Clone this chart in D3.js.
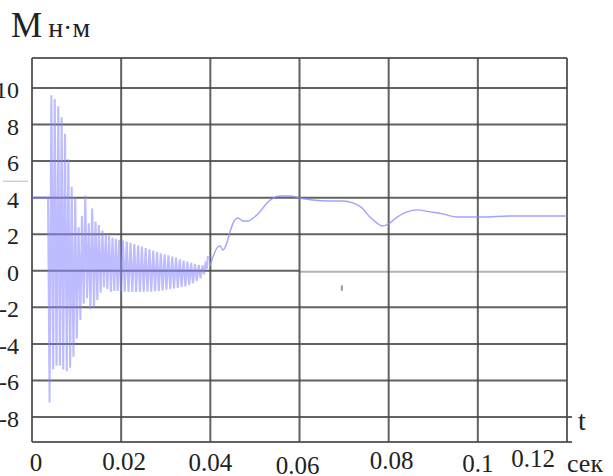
<!DOCTYPE html>
<html>
<head>
<meta charset="utf-8">
<script src="https://cdn.jsdelivr.net/npm/d3@7"></script>
<style>
  body { margin: 0; background: #fff; }
  svg { display: block; }
  text { font-family: "Liberation Serif", "DejaVu Serif", serif; fill: #222; }
</style>
</head>
<body>
<svg id="chart" width="613" height="476"></svg>
<script>
// axis ticks
const xTicks = [0, 0.02, 0.04, 0.06, 0.08, 0.1, 0.12];
const xTickLabels = ["0", "0.02", "0.04", "0.06", "0.08", "0.1", "0.12"];
const yTicks = [-8, -6, -4, -2, 0, 2, 4, 6, 8, 10];

// torque M (N·m) vs time t (s): start-up burst, peaks and troughs
const burstT = [0, 0.0036, 0.00395, 0.00435, 0.00475, 0.0051, 0.0055, 0.0059, 0.00625, 0.00665,
  0.007, 0.0074, 0.0078, 0.00815, 0.00855, 0.0089, 0.0093, 0.0097, 0.01005, 0.01045,
  0.01085, 0.0112, 0.0116, 0.01195, 0.01235, 0.01275, 0.0131, 0.0135, 0.0139, 0.01425,
  0.01465, 0.015, 0.0154, 0.0158, 0.01615, 0.01655, 0.0169, 0.0173, 0.0177, 0.01805,
  0.01845, 0.0188, 0.0192, 0.01955, 0.01995, 0.0204, 0.0208, 0.02125, 0.02165, 0.0221,
  0.0225, 0.02295, 0.02335, 0.0238, 0.0242, 0.02465, 0.02505, 0.0255, 0.0259, 0.02635,
  0.02675, 0.0272, 0.0276, 0.02805, 0.02845, 0.0289, 0.0293, 0.02975, 0.03015, 0.0306,
  0.031, 0.03145, 0.03185, 0.0323, 0.0327, 0.03315, 0.03355, 0.034, 0.0344, 0.03485,
  0.03525, 0.0357, 0.0361, 0.03655, 0.03695, 0.0374, 0.0378, 0.03825, 0.0386, 0.03895,
  0.0392, 0.03945];
const burstV = [4, 4, -7.2, 9.6, -5.4, 9.4, -5.2, 9.0, -5.2, 8.4,
  -5.4, 7.5, -5.5, 6.1, -5.3, 4.6, -4.7, 4.0, -3.7, 2.4,
  -2.7, 3.0, -1.8, 4.1, -1.5, 2.6, -2.1, 3.4, -2.0, 2.7,
  -1.6, 2.5, -1.2, 2.2, -0.9, 2.0, -1.0, 1.9, -1.15, 1.8,
  -1.1, 1.75, -1.1, 1.7, -1.1, 1.66, -1.15, 1.6, -1.16, 1.53,
  -1.16, 1.46, -1.16, 1.39, -1.16, 1.32, -1.15, 1.25, -1.15, 1.18,
  -1.14, 1.1, -1.12, 1.03, -1.1, 0.96, -1.07, 0.9, -1.04, 0.84,
  -1.0, 0.78, -0.97, 0.72, -0.94, 0.62, -0.9, 0.56, -0.85, 0.5,
  -0.78, 0.44, -0.68, 0.38, -0.55, 0.32, -0.42, 0.3, -0.2, 0.5,
  0.1, 0.8];

// torque after the burst settles
const settleT = [0.0399, 0.0406, 0.0415, 0.0422, 0.0428, 0.0437, 0.0444, 0.0451, 0.0462, 0.0473,
  0.0485, 0.0496, 0.0511, 0.0527, 0.0541, 0.0556, 0.0579, 0.0601, 0.063, 0.0668,
  0.0698, 0.072, 0.074, 0.0758, 0.0774, 0.0785, 0.0796, 0.0819, 0.0841, 0.0864,
  0.0893, 0.0922, 0.0953, 0.0983, 0.1005, 0.1079, 0.12];
const settleV = [0.26, 0.75, 1.25, 1.36, 1.14, 1.52, 2.12, 2.61, 2.89, 2.72,
  2.72, 2.89, 3.22, 3.71, 3.98, 4.09, 4.09, 3.98, 3.87, 3.82,
  3.82, 3.71, 3.44, 2.94, 2.61, 2.45, 2.51, 2.94, 3.22, 3.33,
  3.22, 3.11, 2.94, 2.94, 2.94, 3.0, 3.0];

// layout
const left = 32, right = 567, frameTop = 58, frameBottom = 442;
const xLabelNudge = [[4, 19], [3, 18], [0, 19], [-2, 22], [3, 17], [0, 20], [-34, 15]];
const gridColor = "#474747";

const svg = d3.select("#chart");

const x = d3.scaleLinear().domain([0, 0.12]).range([left, right]);
const y = d3.scaleLinear().domain([-8, 10]).range([417, 88]);

function gridLine(x1, y1, x2, y2, color) {
  svg.append("line")
    .attr("x1", x1).attr("y1", y1).attr("x2", x2).attr("y2", y2)
    .attr("stroke", color || gridColor)
    .attr("stroke-width", 2)
    .attr("opacity", 0.85);
}

// horizontal grid (zero line fades to grey past 0.06 as in the scan)
yTicks.forEach(d => {
  if (d === 0) {
    gridLine(left, y(d), x(0.06), y(d));
    gridLine(x(0.06), y(d) + 1, right, y(d) + 1, "#a8a8a8");
  } else {
    gridLine(left, y(d), d === -8 ? right + 5 : right, y(d));
  }
});

// vertical grid
xTicks.forEach(d => gridLine(x(d), frameTop, x(d), frameBottom));

// frame top/bottom
gridLine(left, frameTop, right, frameTop);
gridLine(left, frameBottom, right + 5, frameBottom);

// small stray mark in the scan
svg.append("line")
  .attr("x1", x(0.0695)).attr("x2", x(0.0695))
  .attr("y1", y(-0.8)).attr("y2", y(-1.1))
  .attr("stroke", "#999").attr("stroke-width", 2);

// light blue stroke left of the axis
svg.append("line")
  .attr("x1", 3).attr("x2", 28)
  .attr("y1", y(4.9)).attr("y2", y(4.9))
  .attr("stroke", "#a9b8e8").attr("stroke-width", 1);

// y labels
svg.append("g")
  .selectAll("text")
  .data(yTicks)
  .enter()
  .append("text")
  .attr("x", 19)
  .attr("y", d => y(d) + 10)
  .attr("text-anchor", "end")
  .attr("font-size", 24)
  .text(d => d);

// x labels
svg.append("g")
  .selectAll("text")
  .data(xTicks)
  .enter()
  .append("text")
  .attr("x", (d, i) => x(d) + xLabelNudge[i][0])
  .attr("y", (d, i) => frameBottom + xLabelNudge[i][1] + 10)
  .attr("text-anchor", "middle")
  .attr("font-size", 25)
  .text((d, i) => xTickLabels[i]);

// titles
const title = svg.append("text").attr("x", 11).attr("y", 37);
title.append("tspan").attr("font-size", 35).text("M");
title.append("tspan").attr("font-size", 28).attr("dx", 6).text("н·м");

svg.append("text").attr("x", 578).attr("y", 430).attr("font-size", 28).text("t");
svg.append("text").attr("x", 567).attr("y", 472).attr("font-size", 26).text("сек");

// curves
const line = d3.line()
  .x(d => x(d[0]))
  .y(d => y(d[1]));

svg.append("path")
  .datum(d3.zip(burstT, burstV))
  .attr("d", line)
  .attr("fill", "none")
  .attr("stroke", "#8585ff")
  .attr("stroke-width", 2.1)
  .attr("stroke-opacity", 0.55);

svg.append("path")
  .datum(d3.zip(settleT, settleV))
  .attr("d", line.curve(d3.curveMonotoneX))
  .attr("fill", "none")
  .attr("stroke", "#8a8aff")
  .attr("stroke-width", 1.4)
  .attr("stroke-opacity", 0.8);
</script>
</body>
</html>
